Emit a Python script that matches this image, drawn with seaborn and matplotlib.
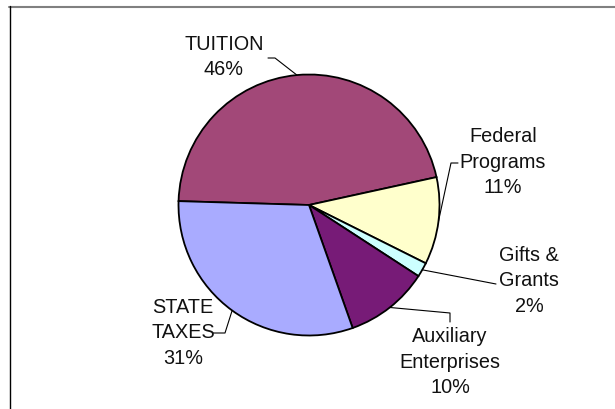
import numpy as np
import matplotlib
matplotlib.use("Agg")
import matplotlib.pyplot as plt
import seaborn as sns
from matplotlib.lines import Line2D

sns.set_style("white")
plt.rcParams['font.family'] = ['Liberation Sans', 'DejaVu Sans']

# Datos (porcentaje del total)
fuentes = ['TUITION', 'Federal\nPrograms', 'Gifts &\nGrants', 'Auxiliary\nEnterprises', 'STATE\nTAXES']
valores = [46.1, 10.8, 1.8, 10.4, 30.9]
colores = ['#A24878', '#FFFFCC', '#CCFFFF', '#771B77', '#A9ABFF']

W, H = 615, 409
fig = plt.figure(figsize=(W / 100, H / 100), dpi=100)
ax = fig.add_axes([0, 0, 1, 1])

cx, cy, r = 309, H - 205, 130.5
wedges, _ = ax.pie(valores, colors=colores, startangle=178.3, counterclock=False,
                   center=(cx, cy), radius=r,
                   wedgeprops=dict(edgecolor='black', linewidth=1.3))
ax.set_xlim(0, W)
ax.set_ylim(0, H)
ax.set_aspect('equal')
ax.axis('off')

# posiciones de etiquetas (pixeles) y puntos de quiebre de las líneas guía
etiquetas = [
    dict(xy=(224, 57), quiebre=[(268, 58), (275, 58)]),
    dict(xy=(503, 162), quiebre=[(458, 163), (451, 163)]),
    dict(xy=(529, 281), quiebre=[(496, 284)]),
    dict(xy=(450, 362), quiebre=[(450, 322), (450, 313)]),
    dict(xy=(183, 333), quiebre=[(213, 333), (225, 333)]),
]

for w, nombre, v, et in zip(wedges, fuentes, valores, etiquetas):
    ang = np.deg2rad((w.theta1 + w.theta2) / 2)
    ex, ey = cx + r * np.cos(ang), cy + r * np.sin(ang)
    pts = [(x, H - y) for x, y in et['quiebre']] + [(ex, ey)]
    ax.plot([p[0] for p in pts], [p[1] for p in pts], color='black', lw=0.8)
    ax.text(et['xy'][0], H - et['xy'][1], f"{nombre}\n{v:.0f}%", ha='center', va='center',
            fontsize=14.3, linespacing=1.45, color='#111111')

# marco del área
fig.add_artist(Line2D([9 / W, 1], [1 - 6.5 / H, 1 - 6.5 / H], color='#808080', lw=1.5))
fig.add_artist(Line2D([9.5 / W, 9.5 / W], [0, 1 - 6 / H], color='black', lw=1.0))

fig.savefig('out.png', dpi=100)
